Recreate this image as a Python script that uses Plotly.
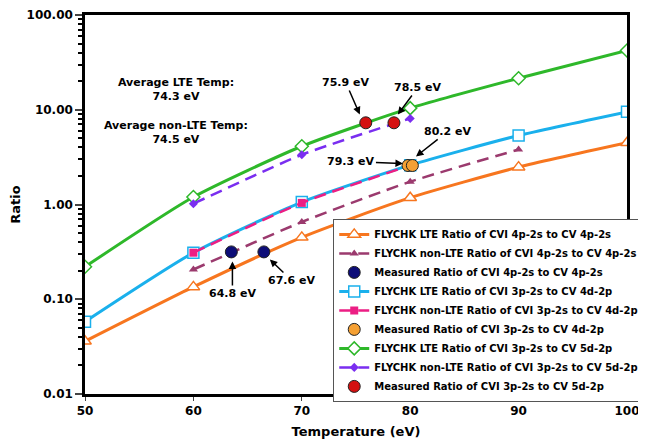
import plotly.graph_objects as go

# ---- data ----
temp_lte = [50, 60, 70, 80, 90, 100]
lte_4p = [0.036, 0.135, 0.45, 1.18, 2.48, 4.48]
lte_4d = [0.058, 0.31, 1.06, 2.6, 5.35, 9.5]
lte_5d = [0.22, 1.2, 4.12, 10.4, 21.5, 42.2]

temp_nlte_4p = [60, 70, 80, 90]
nlte_4p = [0.206, 0.654, 1.74, 3.8]
temp_nlte_4d = [60, 70, 80]
nlte_4d = [0.31, 1.04, 2.58]
temp_nlte_5d = [60, 70, 80]
nlte_5d = [1.02, 3.35, 8.08]

meas_4p_t = [63.5, 66.5]
meas_4p = [0.316, 0.316]
meas_4d_t = [79.8, 80.2]
meas_4d = [2.58, 2.58]
meas_5d_t = [75.9, 78.5]
meas_5d = [7.28, 7.28]

y_ticks = [0.01, 0.1, 1, 10, 100]
x_ticks = [50, 60, 70, 80, 90, 100]

names = [
    "FLYCHK LTE Ratio of CVI 4p-2s to CV 4p-2s",
    "FLYCHK non-LTE Ratio of CVI 4p-2s to CV 4p-2s",
    "Measured Ratio of CVI 4p-2s to CV 4p-2s",
    "FLYCHK LTE Ratio of CVI 3p-2s to CV 4d-2p",
    "FLYCHK non-LTE Ratio of CVI 3p-2s to CV 4d-2p",
    "Measured Ratio of CVI 3p-2s to CV 4d-2p",
    "FLYCHK LTE Ratio of CVI 3p-2s to CV 5d-2p",
    "FLYCHK non-LTE Ratio of CVI 3p-2s to CV 5d-2p",
    "Measured Ratio of CVI 3p-2s to CV 5d-2p",
]

ORANGE = "#F7761F"
MAROON = "#9B3A6E"
NAVY = "#0D0D78"
BLUE = "#1AB0EC"
PINK = "#EC1E84"
LORANGE = "#F5A033"
GREEN = "#2EB82A"
PURPLE = "#7A2EF0"
RED = "#D41111"

DASH = "12px,7px"

fig = go.Figure()

def lte(x, y, name, color, symbol, size, rank):
    fig.add_trace(go.Scatter(
        x=x, y=y, name=name, mode="lines+markers", legendrank=rank,
        line=dict(color=color, width=3, shape="spline", smoothing=0.6),
        marker=dict(symbol=symbol, size=size, color="white",
                    line=dict(color=color, width=1.5))))

def nlte(x, y, name, color, symbol, size, rank):
    fig.add_trace(go.Scatter(
        x=x, y=y, name=name, mode="lines+markers", legendrank=rank,
        line=dict(color=color, width=2.5, dash=DASH, shape="spline", smoothing=0.6),
        marker=dict(symbol=symbol, size=size, color=color)))

def meas(x, y, name, color, rank):
    fig.add_trace(go.Scatter(
        x=x, y=y, name=name, mode="markers", legendrank=rank,
        marker=dict(symbol="circle", size=12, color=color,
                    line=dict(color="#222222", width=1))))

lte(temp_lte, lte_4p, names[0], ORANGE, "triangle-up", 11, 1)
nlte(temp_nlte_4p, nlte_4p, names[1], MAROON, "triangle-up", 8, 2)
lte(temp_lte, lte_4d, names[3], BLUE, "square", 11, 4)
nlte(temp_nlte_4d, nlte_4d, names[4], PINK, "square", 8, 5)
lte(temp_lte, lte_5d, names[6], GREEN, "diamond", 10, 7)
nlte(temp_nlte_5d, nlte_5d, names[7], PURPLE, "diamond", 7, 8)
meas(meas_4p_t, meas_4p, names[2], NAVY, 3)
meas(meas_4d_t, meas_4d, names[5], LORANGE, 6)
meas(meas_5d_t, meas_5d, names[8], RED, 9)

FONT = "DejaVu Sans"
ann_font = dict(family=FONT, size=11, color="black")

def label(text, x, ylog, ax, ay):
    fig.add_annotation(x=x, y=ylog, xref="x", yref="y", text="<b>%s</b>" % text,
                       showarrow=True, arrowhead=2, arrowsize=1, arrowwidth=1.5,
                       arrowcolor="black", ax=ax, ay=ay, font=ann_font)

label("75.9 eV", 75.35, 0.95, -14, -32)
label("78.5 eV", 78.86, 0.95, 20, -27)
label("80.2 eV", 80.53, 0.507, 32, -25)
label("79.3 eV", 79.33, 0.433, -52, -2)
label("64.8 eV", 63.6, -0.602, 0, 32)
label("67.6 eV", 67.05, -0.58, 22, 21)

fig.add_annotation(x=58.35, y=1.214, xref="x", yref="y", showarrow=False,
                   text="<b>Average LTE Temp:<br>74.3 eV</b>", font=ann_font)
fig.add_annotation(x=58.35, y=0.76, xref="x", yref="y", showarrow=False,
                   text="<b>Average non-LTE Temp:<br>74.5 eV</b>", font=ann_font)

minor_vals = [m * 10 ** e for e in range(-2, 2) for m in range(2, 10)]

# the page body adds an 8px offset; margins compensate for it
fig.update_layout(
    width=646, height=445,
    margin=dict(l=77, r=27, t=7, b=59, autoexpand=False),
    paper_bgcolor="white", plot_bgcolor="white",
    font=dict(family=FONT, color="black"),
    showlegend=True,
    legend=dict(x=0.458, y=0.462, xanchor="left", yanchor="top",
                bgcolor="white", bordercolor="#555555", borderwidth=1,
                font=dict(family=FONT, size=10, color="black", weight="bold"),
                tracegroupgap=0),
    xaxis=dict(range=[50, 100], tickvals=x_ticks, ticks="outside", ticklen=4,
               showline=True, linecolor="black", linewidth=2.5, mirror=True,
               showgrid=False, zeroline=False, automargin=False,
               tickfont=dict(family=FONT, size=12, weight="bold"),
               title=dict(text="<b>Temperature (eV)</b>", font=dict(family=FONT, size=13),
                          standoff=10)),
    yaxis=dict(type="log", range=[-2, 2], tickvals=y_ticks, tickformat=".2f",
               ticks="outside", ticklen=7, tickwidth=1.5,
               minor=dict(tickvals=minor_vals, ticks="outside", ticklen=4, tickcolor="black"),
               showline=True, linecolor="black", linewidth=2.5, mirror=True,
               showgrid=False, zeroline=False, automargin=False,
               tickfont=dict(family=FONT, size=12, weight="bold"),
               title=dict(text="<b>Ratio</b>", font=dict(family=FONT, size=13), standoff=5)),
)

fig.write_html("out.html")
